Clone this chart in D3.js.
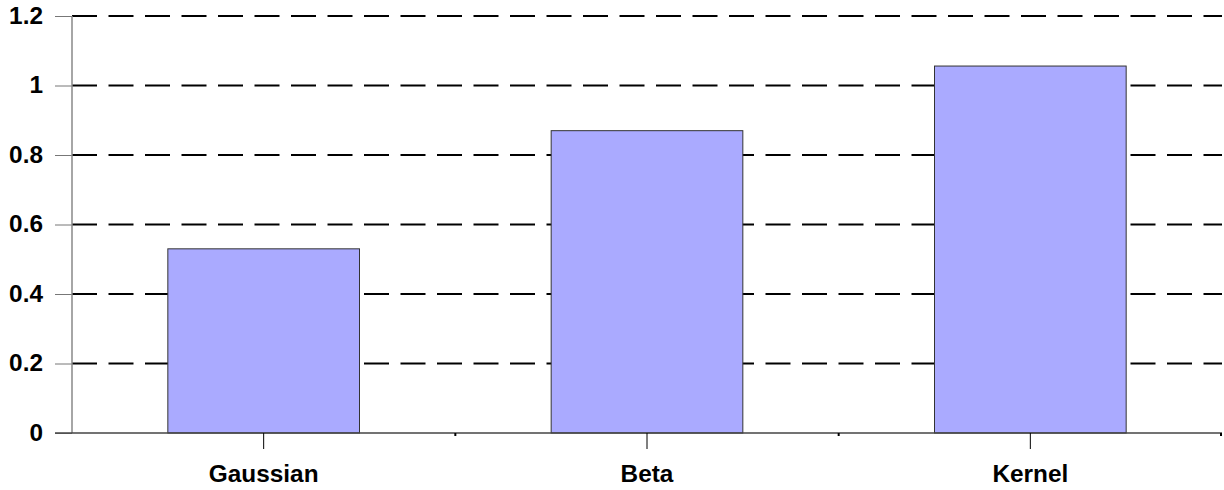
<!DOCTYPE html>
<html>
<head>
<meta charset="utf-8">
<script src="https://cdn.jsdelivr.net/npm/d3@7"></script>
<style>
  html, body { margin: 0; padding: 0; background: #fff; }
  svg { display: block; }
  text { font-family: "Liberation Sans", Arial, sans-serif; font-weight: bold; fill: #000; }
</style>
</head>
<body>
<svg id="chart" width="1224" height="490"></svg>
<script>
// Estimator names and their values
const categories = ["Gaussian", "Beta", "Kernel"];
const values = [0.53, 0.87, 1.056];
const yTicks = [0, 0.2, 0.4, 0.6, 0.8, 1, 1.2];
const yTickLabels = ["0", "0.2", "0.4", "0.6", "0.8", "1", "1.2"];

const svg = d3.select("#chart");
const margin = { left: 72, right: 2, top: 16, bottom: 57 };
const W = 1224, H = 490;
const plotW = W - margin.left - margin.right;
const plotH = H - margin.top - margin.bottom;
const stretch = 1.06; // wide bold lettering
const fontSize = "23px";

const g = svg.append("g").attr("transform", `translate(${margin.left},${margin.top})`);

const x = d3.scaleBand()
  .domain(categories)
  .range([0, plotW])
  .paddingInner(0.5)
  .paddingOuter(0.25);

const y = d3.scaleLinear().domain([0, 1.2]).range([plotH, 0]);

// dashed horizontal gridlines
g.append("g")
  .selectAll("line")
  .data(yTicks.filter(d => d > 0))
  .join("line")
  .attr("x1", 0)
  .attr("x2", plotW)
  .attr("y1", d => y(d))
  .attr("y2", d => y(d))
  .attr("stroke", "#000")
  .attr("stroke-width", 2)
  .attr("stroke-dasharray", "25,11.5");

// bars
g.append("g")
  .selectAll("rect")
  .data(categories)
  .join("rect")
  .attr("x", d => x(d))
  .attr("width", x.bandwidth())
  .attr("y", (d, i) => y(values[i]))
  .attr("height", (d, i) => y(0) - y(values[i]))
  .attr("fill", "#aaaaff")
  .attr("stroke", "#333")
  .attr("stroke-width", 1);

// y axis
const yAxis = d3.axisLeft(y)
  .tickValues(yTicks)
  .tickFormat((d, i) => yTickLabels[i])
  .tickSize(17)
  .tickPadding(0);

const ya = g.append("g").call(yAxis);
ya.select(".domain").remove();
ya.selectAll(".tick line").attr("stroke", "#777").attr("stroke-width", 1);
ya.selectAll(".tick text")
  .attr("x", null)
  .attr("dy", null)
  .attr("text-anchor", "end")
  .attr("transform", `translate(-29,7) scale(${stretch},1)`)
  .style("font-size", fontSize);

g.append("line")
  .attr("x1", 0).attr("x2", 0)
  .attr("y1", 0).attr("y2", plotH)
  .attr("stroke", "#888")
  .attr("stroke-width", 1.5);

// baseline
g.append("line")
  .attr("x1", -17).attr("x2", plotW)
  .attr("y1", y(0)).attr("y2", y(0))
  .attr("stroke", "#444")
  .attr("stroke-width", 1.5);

// x axis: long ticks at category centres
const xAxis = d3.axisBottom(x).tickSize(16).tickPadding(0).tickFormat("");
const xa = g.append("g").attr("transform", `translate(0,${plotH})`).call(xAxis);
xa.select(".domain").remove();
xa.selectAll(".tick line").attr("stroke", "#000").attr("stroke-width", 1);

// short ticks at category boundaries
g.append("g")
  .selectAll("line")
  .data(d3.range(1, categories.length + 1).map(i => i * plotW / categories.length))
  .join("line")
  .attr("x1", d => Math.min(d, plotW - 1))
  .attr("x2", d => Math.min(d, plotW - 1))
  .attr("y1", plotH)
  .attr("y2", plotH + 3)
  .attr("stroke", "#000")
  .attr("stroke-width", 2);

// category labels
g.append("g")
  .selectAll("text")
  .data(categories)
  .join("text")
  .attr("transform", d => `translate(${x(d) + x.bandwidth() / 2},${plotH + 49}) scale(${stretch},1)`)
  .attr("text-anchor", "middle")
  .style("font-size", fontSize)
  .text(d => d);
</script>
</body>
</html>
